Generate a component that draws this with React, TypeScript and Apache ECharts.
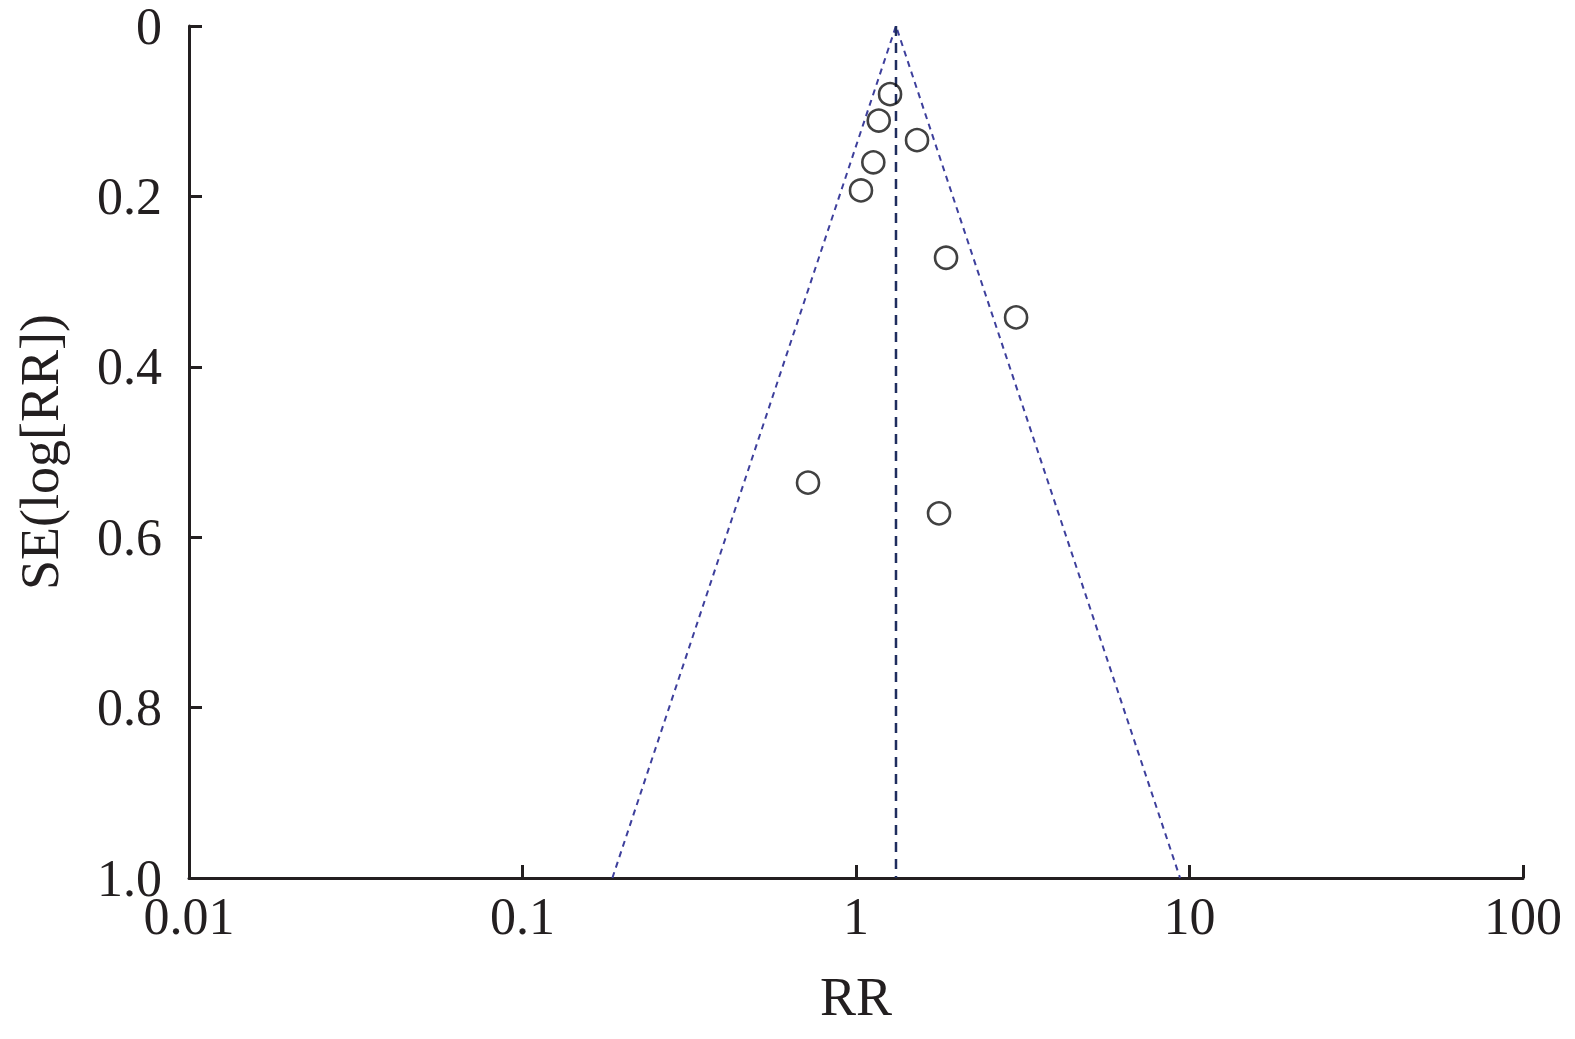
import React, { useEffect, useRef } from "react";
import * as echarts from "echarts";

const studyRR = [1.265, 1.17, 1.524, 1.127, 1.035, 1.862, 3.02, 0.718, 1.774];
const studySE = [0.08, 0.111, 0.134, 0.16, 0.193, 0.272, 0.342, 0.536, 0.572];

const funnelRR = [0.186, 1.318, 9.37];
const funnelSE = [1.0, 0.0, 1.0];

const pooledRR = [1.318, 1.318];
const pooledSE = [0.0, 1.0];

const xTickLabels = ["0.01", "0.1", "1", "10", "100"];
const yTickLabels = ["0", "0.2", "0.4", "0.6", "0.8", "1.0"];

const FONT = "Liberation Serif";
const INK = "#231f20";

export default function App() {
  const ref = useRef<HTMLDivElement>(null);
  useEffect(() => {
    if (!ref.current) return;
    const chart = echarts.init(ref.current, null, { renderer: "svg" });
    chart.setOption({
      animation: false,
      backgroundColor: "#ffffff",
      textStyle: { fontFamily: FONT },
      grid: { left: 189, right: 52, top: 26, bottom: 161, containLabel: false },
      xAxis: {
        type: "log",
        logBase: 10,
        min: 0.01,
        max: 100,
        position: "bottom",
        name: "RR",
        nameLocation: "middle",
        nameGap: 92,
        nameTextStyle: { fontFamily: FONT, fontSize: 54, color: INK },
        axisLine: { show: true, onZero: false, lineStyle: { color: INK, width: 3 } },
        axisTick: { show: true, inside: true, length: 13, lineStyle: { color: INK, width: 3 } },
        minorTick: { show: false },
        splitLine: { show: false },
        axisLabel: {
          fontFamily: FONT,
          fontSize: 52,
          color: INK,
          margin: 12,
          formatter: (v: number) => {
            const idx = Math.round(Math.log10(v)) + 2;
            return xTickLabels[idx] ?? String(v);
          },
        },
      },
      yAxis: {
        type: "value",
        inverse: true,
        min: 0,
        max: 1,
        interval: 0.2,
        position: "left",
        name: "SE(log[RR])",
        nameLocation: "middle",
        nameGap: 122,
        nameTextStyle: { fontFamily: FONT, fontSize: 54, color: INK },
        axisLine: { show: true, onZero: false, lineStyle: { color: INK, width: 3 } },
        axisTick: { show: true, inside: true, length: 13, lineStyle: { color: INK, width: 3 } },
        splitLine: { show: false },
        axisLabel: {
          fontFamily: FONT,
          fontSize: 52,
          color: INK,
          margin: 27,
          formatter: (v: number) => yTickLabels[Math.round(v * 5)] ?? String(v),
        },
      },
      series: [
        {
          type: "line",
          data: funnelRR.map((x, i) => [x, funnelSE[i]]),
          symbol: "none",
          lineStyle: { color: "#3d3f9c", width: 2, type: [6, 5] },
          z: 2,
        },
        {
          type: "line",
          data: pooledRR.map((x, i) => [x, pooledSE[i]]),
          symbol: "none",
          lineStyle: { color: "#1f2d5e", width: 2.5, type: [10, 7] },
          z: 2,
        },
        {
          type: "scatter",
          data: studyRR.map((x, i) => [x, studySE[i]]),
          symbol: "circle",
          symbolSize: 22,
          itemStyle: { color: "rgba(0,0,0,0)", borderColor: "#111111", borderWidth: 2.6 },
          z: 3,
        },
      ],
    });
    return () => chart.dispose();
  }, []);
  return (
    <div
      ref={ref}
      style={{ position: "fixed", left: 0, top: 0, width: 1575, height: 1039, background: "#fff" }}
    />
  );
}
